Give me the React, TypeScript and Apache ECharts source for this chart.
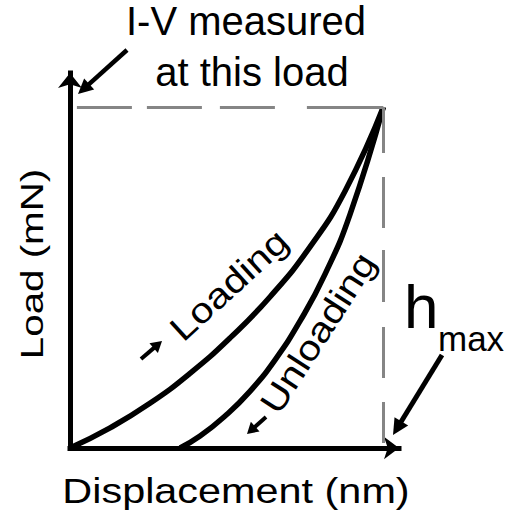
import React, { useEffect, useRef } from "react";
import * as echarts from "echarts";

// ---- data (schematic units: peak load = 100, h_max = 100) ----
const loadingX = [0, 12.8, 25.5, 38.3, 51.1, 63.8, 76.6, 87.8, 100];
const loadingY = [0, 5.9, 13.1, 21.9, 32.3, 44.3, 59.0, 75.4, 100];
const unloadingX = [35.1, 41.5, 49.5, 57.5, 65.4, 73.4, 81.4, 89.4, 100];
const unloadingY = [0, 3.5, 9.4, 16.7, 25.8, 37.2, 51.0, 68.6, 100];
const peakLoad = 100;
const hMax = 100;
const xAxisMax = 105;
const yAxisMax = 110;

const xTitle = "Displacement (nm)";
const yTitle = "Load (mN)";
const noteLines = ["I-V measured", "at this load"];
const loadingLabel = "Loading";
const unloadingLabel = "Unloading";
const hLabel = "h";
const hSub = "max";

const FONT = "'Liberation Sans', Arial, Helvetica, sans-serif";

function arrow(x1: number, y1: number, x2: number, y2: number, width: number, headLen: number, headW: number) {
  const dx = x2 - x1;
  const dy = y2 - y1;
  const len = Math.hypot(dx, dy);
  const ux = dx / len;
  const uy = dy / len;
  const bx = x2 - ux * headLen;
  const by = y2 - uy * headLen;
  const px = -uy;
  const py = ux;
  return {
    type: "group",
    silent: true,
    children: [
      {
        type: "line",
        shape: { x1, y1, x2: bx + ux * 2, y2: by + uy * 2 },
        style: { stroke: "#000", lineWidth: width },
      },
      {
        type: "polygon",
        shape: {
          points: [
            [x2, y2],
            [bx + (px * headW) / 2, by + (py * headW) / 2],
            [bx - (px * headW) / 2, by - (py * headW) / 2],
          ],
        },
        style: { fill: "#000" },
      },
    ],
  };
}

function txt(text: string, x: number, y: number, fontSize: number, opts: any = {}) {
  const align = opts.align || "center";
  return {
    type: "text",
    x,
    y,
    rotation: opts.rotation || 0,
    scaleX: opts.scaleX || 1,
    scaleY: opts.scaleY || 1,
    silent: true,
    style: {
      text,
      fontSize,
      fontFamily: FONT,
      fill: "#000",
      align,
      textAlign: align,
      verticalAlign: "middle",
      textVerticalAlign: "middle",
    },
  };
}

export default function App() {
  const ref = useRef<HTMLDivElement>(null);
  useEffect(() => {
    if (!ref.current) return;
    const chart = echarts.init(ref.current, null, { renderer: "svg" });
    const loadingData = loadingX.map((x, i) => [x, loadingY[i]]);
    const unloadingData = unloadingX.map((x, i) => [x, unloadingY[i]]);
    const grey = "#858585";
    chart.setOption({
      animation: false,
      backgroundColor: "#fff",
      grid: { left: 70, right: 116, top: 73, bottom: 68 },
      xAxis: {
        type: "value",
        min: 0,
        max: xAxisMax,
        axisLine: {
          show: true,
          onZero: false,
          symbol: ["none", "arrow"],
          symbolSize: [17, 15],
          lineStyle: { color: "#000", width: 5, cap: "square" },
        },
        axisTick: { show: false },
        axisLabel: { show: false },
        splitLine: { show: false },
      },
      yAxis: {
        type: "value",
        min: 0,
        max: yAxisMax,
        axisLine: {
          show: true,
          onZero: false,
          symbol: ["none", "arrow"],
          symbolSize: [18, 15],
          lineStyle: { color: "#000", width: 5, cap: "square" },
        },
        axisTick: { show: false },
        axisLabel: { show: false },
        splitLine: { show: false },
      },
      series: [
        {
          type: "line",
          name: loadingLabel,
          data: loadingData,
          smooth: 0.5,
          symbol: "none",
          lineStyle: { color: "#000", width: 5.5 },
          z: 3,
          markLine: {
            silent: true,
            symbol: ["none", "none"],
            label: { show: false },
            animation: false,
            data: [
              [
                {
                  coord: [2.2, peakLoad],
                  lineStyle: { color: grey, width: 3, type: [55, 15, 55, 18, 55, 32, 80] },
                },
                { coord: [hMax, peakLoad] },
              ],
              [
                {
                  coord: [hMax, peakLoad],
                  lineStyle: { color: grey, width: 3, type: [46, 24, 51, 22, 52, 25, 51, 24, 41, 20] },
                },
                { coord: [hMax, 0] },
              ],
            ],
          },
        },
        {
          type: "line",
          name: unloadingLabel,
          data: unloadingData,
          smooth: 0.5,
          symbol: "none",
          lineStyle: { color: "#000", width: 5.5 },
          z: 3,
        },
      ],
      graphic: [
        txt(noteLines[0], 246, 21, 40),
        txt(noteLines[1], 252, 72, 40),
        txt(xTitle, 236, 490, 36, { scaleX: 1.15 }),
        txt(yTitle, 32, 264, 32, { rotation: Math.PI / 2, scaleX: 1.26 }),
        txt(loadingLabel, 229, 285, 35, { rotation: 0.74, scaleX: 1.17 }),
        txt(unloadingLabel, 318, 333, 35, { rotation: 1.0, scaleX: 1.16 }),
        txt(hLabel, 404, 306, 62, { align: "left" }),
        txt(hSub, 438, 338, 35, { align: "left" }),
        arrow(127, 50, 78, 94, 4.5, 15, 15),
        arrow(442, 355, 393, 435, 5, 16, 16),
        arrow(141, 359, 162, 341, 4, 11, 13),
        arrow(266, 417, 247, 434, 4, 11, 13),
      ],
    });
    return () => chart.dispose();
  }, []);
  return (
    <div
      ref={ref}
      style={{ position: "fixed", left: 0, top: 0, width: 515, height: 516, background: "#fff" }}
    />
  );
}
